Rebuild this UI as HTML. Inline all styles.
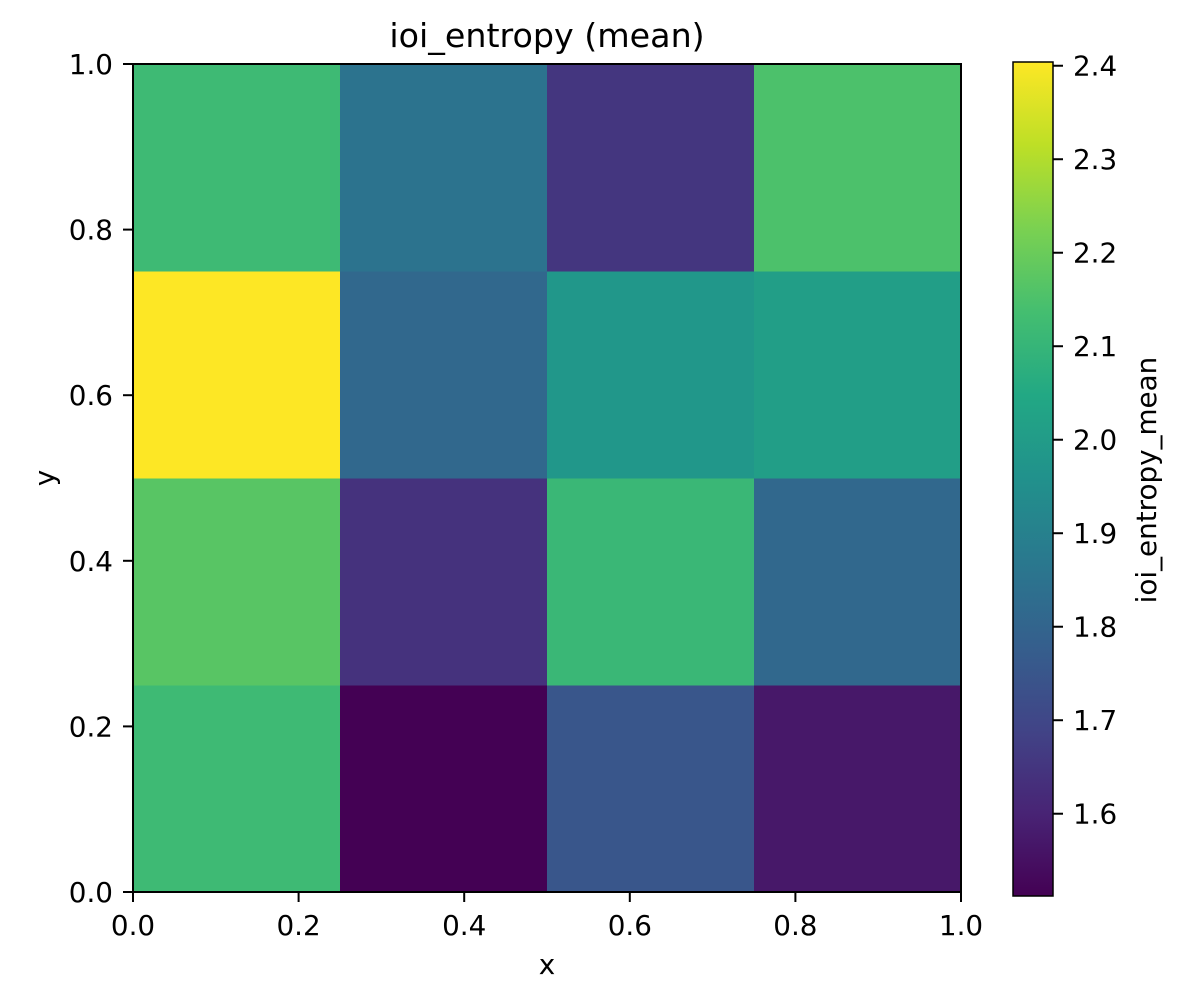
<!DOCTYPE html>
<html><head><meta charset="utf-8"><style>
body{margin:0;background:#fff;}
svg text{font-family:"DejaVu Sans","Liberation Sans",sans-serif;fill:#000;}
</style></head><body>
<svg id="chart" width="1200" height="1000" xmlns="http://www.w3.org/2000/svg">
<defs><linearGradient id="vgrad" x1="0" y1="1" x2="0" y2="0"></linearGradient></defs>
<text x="547" y="47" font-size="33.3" text-anchor="middle">ioi_entropy (mean)</text>
<g id="cells"></g>
<g id="axes"></g>
<text x="547" y="974" font-size="27.8" text-anchor="middle">x</text>
<text x="54" y="478" font-size="27.8" text-anchor="middle" transform="rotate(-90 54 478)">y</text>
<rect x="1013" y="62" width="40" height="834" fill="url(#vgrad)" stroke="#000" stroke-width="1.5"/>
<g id="cbticks"></g>
<text x="1156" y="480" font-size="27.8" text-anchor="middle" transform="rotate(-90 1156 480)">ioi_entropy_mean</text>
</svg>
<script>
const xEdges=[0,0.25,0.5,0.75,1.0];
const yEdges=[0,0.25,0.5,0.75,1.0];
// rows bottom to top
const row0=[2.12,1.512,1.75,1.57];
const row1=[2.17,1.64,2.11,1.81];
const row2=[2.404,1.81,1.98,2.01];
const row3=[2.12,1.85,1.65,2.15];
const axisTicks=[0,0.2,0.4,0.6,0.8,1.0];
const cbTicks=[1.6,1.7,1.8,1.9,2.0,2.1,2.2,2.3,2.4];
const vmin=1.512,vmax=2.404;
const rows=[row0,row1,row2,row3];
const X0=133,X1=961,Y0=892,Y1=64;
const sx=v=>X0+(X1-X0)*v, sy=v=>Y0-(Y0-Y1)*v;
const cbY=v=>896-(v-vmin)/(vmax-vmin)*834;
const V=[[68,1,84],[72,36,117],[65,68,135],[53,95,141],[42,120,142],[33,145,140],[34,168,132],[68,190,112],[122,209,81],[189,223,38],[253,231,37]];
function viridis(t){t=Math.max(0,Math.min(1,t));const p=t*10,i=Math.min(9,Math.floor(p)),f=p-i;
const c=V[i].map((a,k)=>Math.round(a+(V[i+1][k]-a)*f));return `rgb(${c})`;}
const NS="http://www.w3.org/2000/svg";
function mk(tag,attrs,parent){const e=document.createElementNS(NS,tag);for(const k in attrs)e.setAttribute(k,attrs[k]);parent.appendChild(e);return e;}
const g=document.getElementById('cells');
rows.forEach((row,r)=>row.forEach((v,c)=>{
 const x=sx(xEdges[c]),x2=sx(xEdges[c+1]),y=sy(yEdges[r+1]),y2=sy(yEdges[r]);
 const e=mk('rect',{x:x,y:y,width:x2-x+0.5,height:y2-y+0.5,fill:viridis((v-vmin)/(vmax-vmin))},g);
 
 
}));
const ax=document.getElementById('axes');
mk('rect',{x:X0,y:Y1,width:X1-X0,height:Y0-Y1,fill:'none',stroke:'#000','stroke-width':2},ax);
axisTicks.forEach(t=>{
 mk('line',{x1:sx(t),x2:sx(t),y1:Y0,y2:Y0+10,stroke:'#000','stroke-width':2},ax);
 const tx=mk('text',{x:sx(t),y:Y0+43,'font-size':27.8,'text-anchor':'middle'},ax);tx.textContent=t.toFixed(1);
 
 
 mk('line',{x1:X0-10,x2:X0,y1:sy(t),y2:sy(t),stroke:'#000','stroke-width':2},ax);
 const ty=mk('text',{x:X0-20,y:sy(t)+10,'font-size':27.8,'text-anchor':'end'},ax);ty.textContent=t.toFixed(1);
 
 
});
const gr=document.getElementById('vgrad');
for(let i=0;i<=10;i++)mk('stop',{offset:(i*10)+'%','stop-color':viridis(i/10)},gr);
const cb=document.getElementById('cbticks');
cbTicks.forEach(t=>{const y=cbY(t);
 mk('line',{x1:1053,x2:1063,y1:y,y2:y,stroke:'#000','stroke-width':2},cb);
 const tt=mk('text',{x:1073,y:y+10,'font-size':27.8},cb);tt.textContent=t.toFixed(1);
 
 
});
</script>
</body></html>
